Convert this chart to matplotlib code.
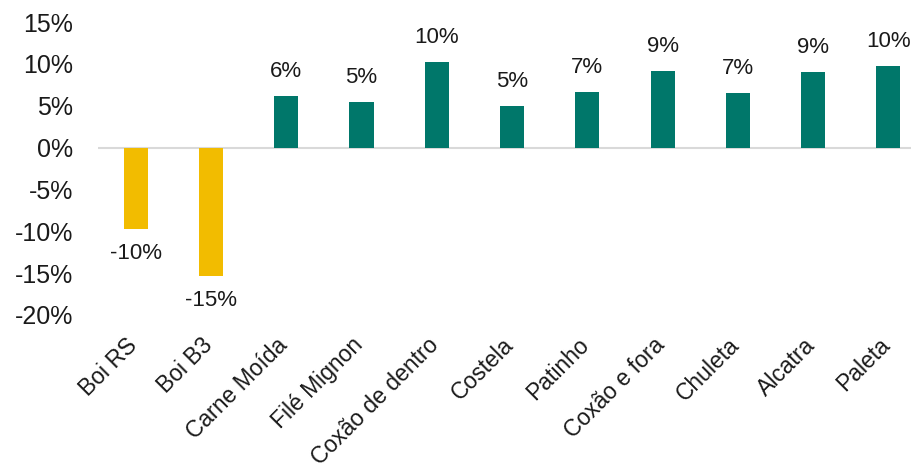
import matplotlib.pyplot as plt
from matplotlib.ticker import FuncFormatter
import matplotlib.transforms as mtransforms

plt.rcParams['font.family'] = ['Liberation Sans', 'DejaVu Sans']

# Variação de preço (%)
categories = ['Boi RS', 'Boi B3', 'Carne Moída', 'Filé Mignon', 'Coxão de dentro',
              'Costela', 'Patinho', 'Coxão e fora', 'Chuleta', 'Alcatra', 'Paleta']
values = [-9.7, -15.4, 6.2, 5.4, 10.2, 5.0, 6.6, 9.2, 6.5, 9.0, 9.8]
labels = ['-10%', '-15%', '6%', '5%', '10%', '5%', '7%', '9%', '7%', '9%', '10%']
yticks = [-20, -15, -10, -5, 0, 5, 10, 15]

yellow = '#F2BC00'
teal = '#00776A'
colors = [yellow if v < 0 else teal for v in values]

fig = plt.figure(figsize=(9.11, 4.72), dpi=100)
ax = fig.add_axes([98 / 911, 1 - 315 / 472, 1 - 98 / 911, (315 - 22) / 472])

x = list(range(len(categories)))
ax.bar(x, values, width=0.32, color=colors, zorder=2)
ax.axhline(0, color='#D9D9D9', lw=1.5, zorder=1)

for xi, v, lab in zip(x, values, labels):
    off = 10 if v >= 0 else -10
    ax.annotate(lab, (xi, v), xytext=(0, off), textcoords='offset points',
                ha='center', va='bottom' if v >= 0 else 'top', fontsize=16, color='#1a1a1a')

ax.set_xlim(-0.5, 10.3)
ax.set_ylim(-20, 15)
ax.set_yticks(yticks)
ax.yaxis.set_major_formatter(FuncFormatter(lambda v, p: f'{v:.0f}%'))
ax.tick_params(axis='y', length=0, pad=18, labelsize=18, labelcolor='#1a1a1a')
ax.tick_params(axis='x', length=0, pad=4, labelsize=16.5, labelcolor='#1a1a1a')
ax.set_xticks(x)
ax.set_xticklabels(categories, rotation=45, ha='right', rotation_mode='anchor')
shift = mtransforms.ScaledTranslation(-0.10, -0.13, fig.dpi_scale_trans)
for lab in ax.get_xticklabels():
    lab.set_transform(lab.get_transform() + shift)

for s in ax.spines.values():
    s.set_visible(False)

fig.savefig('out.png', dpi=100)
